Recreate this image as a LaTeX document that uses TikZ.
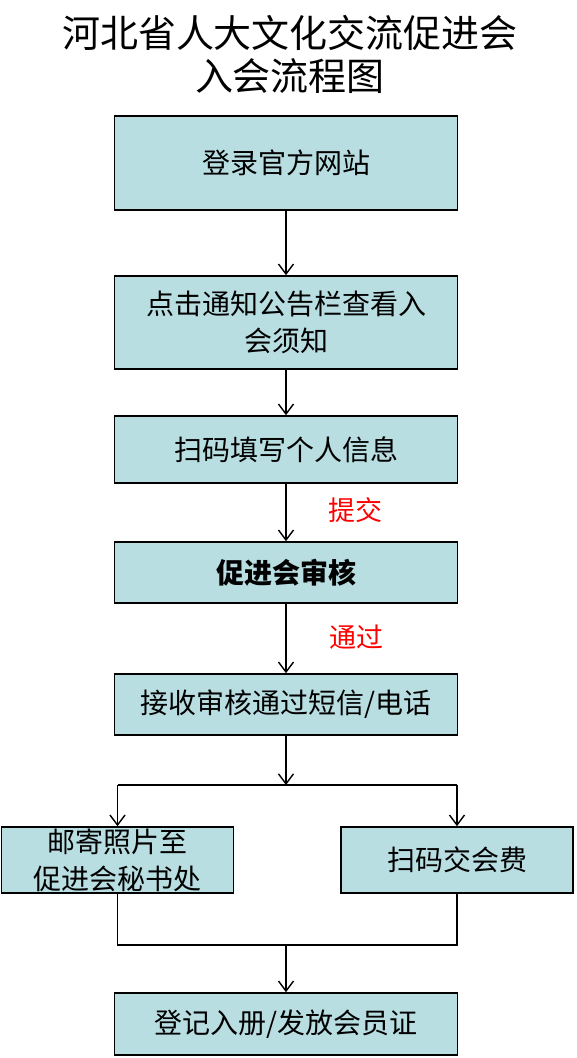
\documentclass[tikz,border=0pt]{standalone}
\usepackage{fontspec}
\newfontfamily\cjk{Noto Sans CJK SC}
\usetikzlibrary{arrows.meta,positioning}
\definecolor{boxfill}{RGB}{184,222,226}
\definecolor{lblred}{RGB}{255,0,0}
\tikzset{
  stepbox/.style={draw=black, fill=boxfill, line width=1.6pt, inner sep=0pt,
                  minimum width=343pt, align=center,
                  font=\cjk\fontsize{28}{37}\selectfont},
  sidebox/.style={stepbox, minimum width=232pt, minimum height=66pt},
  lbl/.style={text=lblred, font=\cjk\fontsize{27}{30}\selectfont},
  conn/.style={line width=1.4pt},
  >={Straight Barb[length=10pt,width=15pt,line width=1.4pt]}
}
\begin{document}
\begin{tikzpicture}[x=1pt,y=-1pt]
                \useasboundingbox (0,0) rectangle (576,1058);
                \fill[white] (0,0) rectangle (576,1058);
                \node[align=center, font=\cjk\fontsize{38}{43}\selectfont] (title) at (290,54)
                    {河北省人大文化交流促进会\\入会流程图};
                \node[stepbox, minimum height=94pt] (login)  at (286,163) {登录官方网站};
                \node[stepbox, minimum height=93pt] (notice) at (286,322.5) {点击通知公告栏查看入\\会须知};
                \node[stepbox, minimum height=67pt] (info)   at (286,449.5) {扫码填写个人信息};
                \node[stepbox, minimum height=61pt] (review) at (286,572.5) {\bfseries 促进会审核};
                \node[stepbox, minimum height=61pt] (recv)   at (286,704.5) {接收审核通过短信/电话};
                \node[sidebox] (post) at (117.5,860) {邮寄照片至\\促进会秘书处};
                \node[sidebox] (fee)  at (457,860) {扫码交会费};
                \node[stepbox, minimum height=62pt] (reg)    at (286,1024) {登记入册/发放会员证};
                \node[lbl] (submit) at (355,510) {提交};
                \node[lbl] (pass)   at (356,637) {通过};
                \coordinate (fork)  at (286,785);
                \coordinate (forkL) at (117.5,785);
                \coordinate (forkR) at (457,785);
                \coordinate (join)  at (286,945);
                \coordinate (joinL) at (117.5,945);
                \coordinate (joinR) at (457,945);
                \draw[conn,->] (login) -- (notice);
                \draw[conn,->] (notice) -- (info);
                \draw[conn,->] (info) -- (review);
                \draw[conn,->] (review) -- (recv);
                \draw[conn,->] (recv) -- (fork);
                \draw[conn] (forkL) -- (forkR);
                \draw[conn,->] (forkL) -- (post);
                \draw[conn,->] (forkR) -- (fee);
                \draw[conn] (post) -- (joinL) -- (joinR) -- (fee);
                \draw[conn,->] (join) -- (reg);
            \end{tikzpicture}
\end{document}
